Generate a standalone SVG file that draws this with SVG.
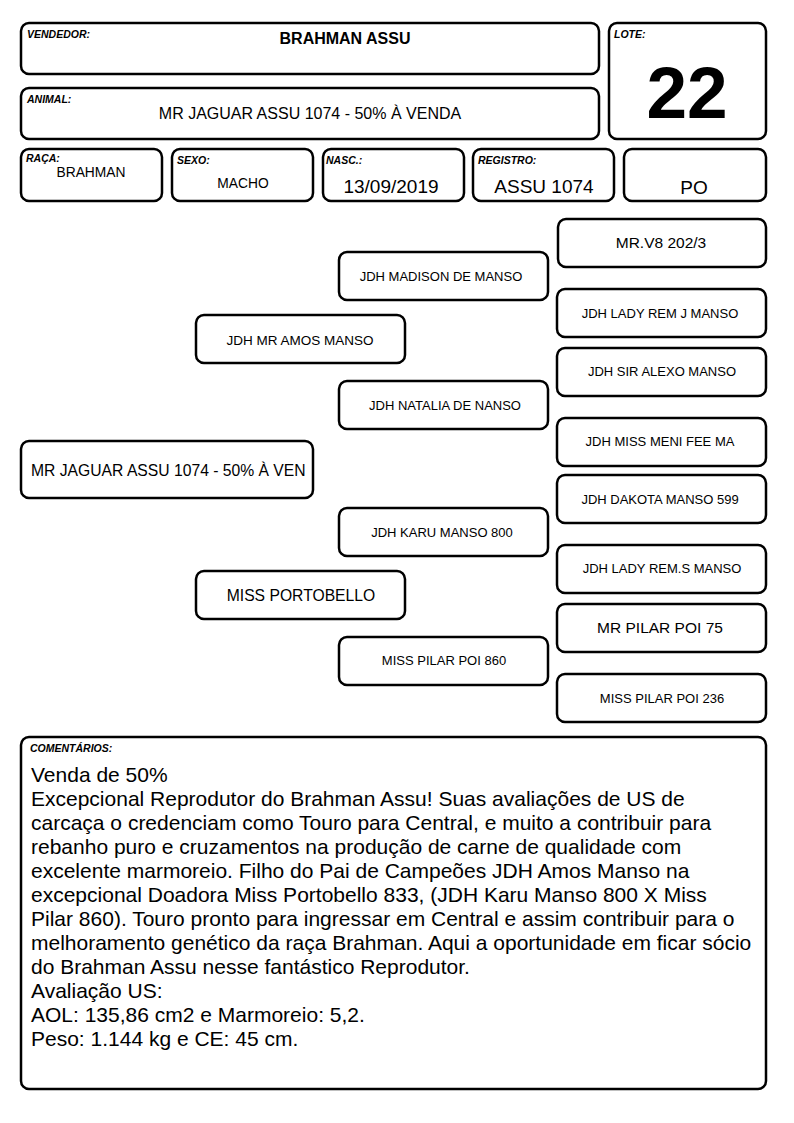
<svg xmlns="http://www.w3.org/2000/svg" width="794" height="1123" viewBox="0 0 794 1123">
<style>
.b{fill:#fff;stroke:#000;stroke-width:2.5}
.lbl{font-family:"Liberation Sans",Arial,sans-serif;font-weight:bold;font-style:italic;font-size:10.5px;fill:#000}
.t{font-family:"Liberation Sans",Arial,sans-serif;fill:#000;text-anchor:middle}
.c{font-family:"Liberation Sans",Arial,sans-serif;fill:#000;font-size:21px}
</style>
<rect width="794" height="1123" fill="#fff"/>
<g id="vendedor">
<rect class="b" x="21" y="23" width="578" height="51" rx="8"/>
<text class="lbl" x="27" y="38">VENDEDOR:</text>
<text class="t" x="345" y="44" font-size="16" font-weight="bold">BRAHMAN ASSU</text>
</g>
<g id="animal">
<rect class="b" x="21" y="88" width="578" height="51" rx="8"/>
<text class="lbl" x="27" y="103">ANIMAL:</text>
<text class="t" x="310" y="119" font-size="16">MR JAGUAR ASSU 1074 - 50% À VENDA</text>
</g>
<g id="lote">
<rect class="b" x="609" y="23" width="157" height="116" rx="8"/>
<text class="lbl" x="614" y="38">LOTE:</text>
<text class="t" x="687" y="118" font-size="73" font-weight="bold">22</text>
</g>
<g id="raca">
<rect class="b" x="21" y="149" width="141" height="52" rx="8"/>
<text class="lbl" x="26" y="162">RAÇA:</text>
<text class="t" x="91" y="177" font-size="13.8">BRAHMAN</text>
</g>
<g id="sexo">
<rect class="b" x="172" y="149" width="141" height="52" rx="8"/>
<text class="lbl" x="177" y="164">SEXO:</text>
<text class="t" x="243" y="188" font-size="13.8">MACHO</text>
</g>
<g id="nasc">
<rect class="b" x="323" y="149" width="141" height="52" rx="8"/>
<text class="lbl" x="326" y="164">NASC.:</text>
<text class="t" x="391" y="193" font-size="19">13/09/2019</text>
</g>
<g id="registro">
<rect class="b" x="473" y="149" width="141" height="52" rx="8"/>
<text class="lbl" x="478" y="164">REGISTRO:</text>
<text class="t" x="544" y="193" font-size="19">ASSU 1074</text>
</g>
<g id="po">
<rect class="b" x="624" y="149" width="142" height="52" rx="8"/>
<text class="t" x="694" y="194" font-size="19">PO</text>
</g>
<g id="connectors"></g>
<g id="n-mrv8">
<rect class="b" x="558" y="219" width="208" height="48" rx="8"/>
<text class="t" x="661" y="248" font-size="15.5">MR.V8 202/3</text>
</g>
<g id="n-madison">
<rect class="b" x="339" y="252" width="209" height="48" rx="8"/>
<text class="t" x="441" y="281" font-size="13">JDH MADISON DE MANSO</text>
</g>
<g id="n-ladyremj">
<rect class="b" x="557" y="289" width="209" height="48" rx="8"/>
<text class="t" x="660" y="318" font-size="13">JDH LADY REM J MANSO</text>
</g>
<g id="n-amos">
<rect class="b" x="196" y="315" width="209" height="48" rx="8"/>
<text class="t" x="300" y="345" font-size="13.5">JDH MR AMOS MANSO</text>
</g>
<g id="n-alexo">
<rect class="b" x="557" y="348" width="209" height="48" rx="8"/>
<text class="t" x="662" y="376" font-size="13">JDH SIR ALEXO MANSO</text>
</g>
<g id="n-natalia">
<rect class="b" x="339" y="381" width="209" height="48" rx="8"/>
<text class="t" x="445" y="410" font-size="13">JDH NATALIA DE NANSO</text>
</g>
<g id="n-meni">
<rect class="b" x="557" y="418" width="209" height="48" rx="8"/>
<text class="t" x="660" y="446" font-size="13">JDH MISS MENI FEE MA</text>
</g>
<g id="n-jaguar">
<rect class="b" x="21" y="441" width="292" height="57" rx="8"/>
<text x="31" y="476" font-family="Liberation Sans,Arial,sans-serif" font-size="15.7">MR JAGUAR ASSU 1074 - 50% À VEN</text>
</g>
<g id="n-dakota">
<rect class="b" x="557" y="475" width="209" height="48" rx="8"/>
<text class="t" x="660" y="504" font-size="13">JDH DAKOTA MANSO 599</text>
</g>
<g id="n-karu">
<rect class="b" x="339" y="508" width="209" height="48" rx="8"/>
<text class="t" x="442" y="537" font-size="13">JDH KARU MANSO 800</text>
</g>
<g id="n-ladyrems">
<rect class="b" x="557" y="545" width="209" height="48" rx="8"/>
<text class="t" x="662" y="573" font-size="13">JDH LADY REM.S MANSO</text>
</g>
<g id="n-portobello">
<rect class="b" x="196" y="571" width="209" height="48" rx="8"/>
<text class="t" x="301" y="601" font-size="15.7">MISS PORTOBELLO</text>
</g>
<g id="n-pilar75">
<rect class="b" x="557" y="604" width="209" height="48" rx="8"/>
<text class="t" x="660" y="633" font-size="15.5">MR PILAR POI 75</text>
</g>
<g id="n-pilar860">
<rect class="b" x="339" y="637" width="209" height="48" rx="8"/>
<text class="t" x="444" y="665" font-size="13">MISS PILAR POI 860</text>
</g>
<g id="n-pilar236">
<rect class="b" x="557" y="674" width="209" height="48" rx="8"/>
<text class="t" x="662" y="703" font-size="13">MISS PILAR POI 236</text>
</g>
<g id="comentarios">
<rect class="b" x="21" y="737" width="745" height="352" rx="8"/>
<text class="lbl" x="30" y="752" font-size="9.5">COMENTÁRIOS:</text>
<text class="c">
<tspan x="31" y="782">Venda de 50%</tspan>
<tspan x="31" y="806">Excepcional Reprodutor do Brahman Assu! Suas avaliações de US de</tspan>
<tspan x="31" y="830">carcaça o credenciam como Touro para Central, e muito a contribuir para</tspan>
<tspan x="31" y="854">rebanho puro e cruzamentos na produção de carne de qualidade com</tspan>
<tspan x="31" y="878">excelente marmoreio. Filho do Pai de Campeões JDH Amos Manso na</tspan>
<tspan x="31" y="902">excepcional Doadora Miss Portobello 833, (JDH Karu Manso 800 X Miss</tspan>
<tspan x="31" y="926">Pilar 860). Touro pronto para ingressar em Central e assim contribuir para o</tspan>
<tspan x="31" y="950">melhoramento genético da raça Brahman. Aqui a oportunidade em ficar sócio</tspan>
<tspan x="31" y="974">do Brahman Assu nesse fantástico Reprodutor.</tspan>
<tspan x="31" y="998">Avaliação US:</tspan>
<tspan x="31" y="1022">AOL: 135,86 cm2 e Marmoreio: 5,2.</tspan>
<tspan x="31" y="1046">Peso: 1.144 kg e CE: 45 cm.</tspan>
</text>
</g>
</svg>
